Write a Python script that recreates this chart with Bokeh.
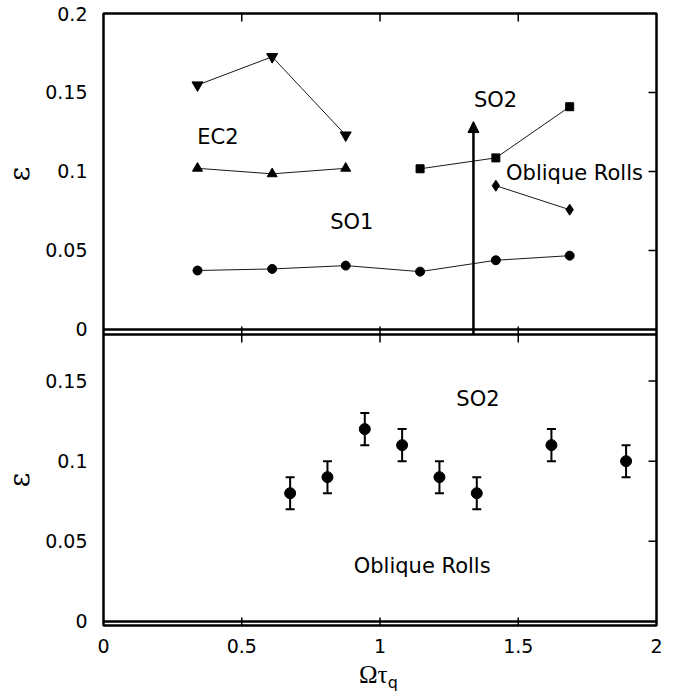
import math
from bokeh.plotting import figure
from bokeh.layouts import column
from bokeh.models import (ColumnDataSource, Range1d, FixedTicker, Span,
                          Label, Arrow, NormalHead, Whisker, TeeHead, Div)
from bokeh.embed import file_html
from bokeh.resources import INLINE

# ---------------- data ----------------
# top panel
x_grid = [0.34, 0.61, 0.876, 1.145, 1.419, 1.686]
so1_eps = [0.0373, 0.0383, 0.0404, 0.0366, 0.0438, 0.0467]          # circles
ec2_up_x = [0.34, 0.61, 0.876]
ec2_up_eps = [0.1547, 0.1726, 0.123]                                   # down triangles
ec2_lo_x = [0.34, 0.61, 0.876]
ec2_lo_eps = [0.102, 0.0985, 0.102]                                    # up triangles
so2_x = [1.145, 1.419, 1.686]
so2_eps = [0.1017, 0.1086, 0.141]                                      # squares
obl_x = [1.419, 1.686]
obl_eps = [0.091, 0.0758]                                              # diamonds
arrow_x = 1.338
arrow_top = 0.1316

# bottom panel
b_x = [0.675, 0.81, 0.945, 1.08, 1.215, 1.35, 1.62, 1.89]
b_eps = [0.08, 0.09, 0.12, 0.11, 0.09, 0.08, 0.11, 0.10]
b_err = [0.01, 0.01, 0.01, 0.01, 0.01, 0.01, 0.01, 0.01]

x_ticks = [0, 0.5, 1, 1.5, 2]
x_tick_labels = ["0", "0.5", "1", "1.5", "2"]
inner_x_ticks = [0.5, 1, 1.5]
top_y_ticks = [0, 0.05, 0.1, 0.15, 0.2]
top_y_labels = ["0", "0.05", "0.1", "0.15", "0.2"]
top_inner_y = [0.05, 0.1, 0.15]
bot_y_ticks = [0, 0.05, 0.1, 0.15]
bot_y_labels = ["0", "0.05", "0.1", "0.15"]
bot_inner_y = [0.05, 0.1, 0.15]

TOP_Y = (-0.0032, 0.2)
BOT_Y = (-0.0025, 0.179)

FONT = "DejaVu Sans"
TICK_FS = "19px"
FS = "21px"
LC = "#1a1a1a"
OVERLAP = 14   # px of the top figure's bottom border that the lower figure overlays
LEFT = 101
RIGHT = 14
W = 670

x_range = Range1d(0, 2)


def style_left(p, yticks, ylabels):
    ly = p.yaxis[0]
    ly.ticker = FixedTicker(ticks=yticks)
    ly.major_label_overrides = {t: l for t, l in zip(yticks, ylabels)}
    ly.major_label_text_font = FONT
    ly.major_label_text_font_size = TICK_FS
    ly.major_label_text_color = "black"
    ly.major_label_standoff = 16
    ly.major_tick_in = 0
    ly.major_tick_out = 0
    ly.minor_tick_in = 0
    ly.minor_tick_out = 0
    ly.axis_line_color = None
    ly.axis_label = "ε"
    ly.axis_label_text_font = "DejaVu Serif"
    ly.axis_label_text_font_size = "28px"
    ly.axis_label_text_font_style = "normal"
    ly.axis_label_text_color = "black"
    ly.axis_label_standoff = 6


def inner_ticks(p, yr, inner_y):
    # short tick marks on the inside of the frame (clipped to the frame)
    p.scatter([2] * len(inner_y), inner_y, marker="dash", size=16, line_width=1.5,
              line_color="black")
    p.scatter(inner_x_ticks, [yr[1]] * len(inner_x_ticks), marker="dash", angle=math.pi / 2,
              size=16, line_width=1.5, line_color="black")
    p.scatter(inner_x_ticks, [yr[0]] * len(inner_x_ticks), marker="dash", angle=math.pi / 2,
              size=16, line_width=1.5, line_color="black")


def base_style(p):
    p.grid.visible = False
    p.outline_line_color = "black"
    p.outline_line_width = 2.5
    p.background_fill_color = "white"
    p.add_layout(Span(location=0, dimension="width", line_color="black", line_width=2.5))


def txt(p, x, y, s):
    p.add_layout(Label(x=x, y=y, text=s, text_font=FONT, text_font_size=FS,
                       text_baseline="middle", text_align="left", text_color="black"))


# ---------------- top panel ----------------
p1 = figure(width=W, height=13 + 321 + OVERLAP, x_range=x_range, y_range=Range1d(*TOP_Y),
            output_backend="svg", toolbar_location=None,
            min_border_left=LEFT, min_border_right=RIGHT, min_border_top=13,
            min_border_bottom=OVERLAP)
p1.border_fill_color = "white"
base_style(p1)
style_left(p1, top_y_ticks, top_y_labels)
p1.xaxis.visible = False
inner_ticks(p1, TOP_Y, top_inner_y)

p1.line(ec2_up_x, ec2_up_eps, line_color=LC, line_width=1)
p1.scatter(ec2_up_x, ec2_up_eps, marker="inverted_triangle", size=11, color="black")
p1.line(ec2_lo_x, ec2_lo_eps, line_color=LC, line_width=1)
p1.scatter(ec2_lo_x, ec2_lo_eps, marker="triangle", size=10, color="black")
p1.line(x_grid, so1_eps, line_color=LC, line_width=1)
p1.scatter(x_grid, so1_eps, marker="circle", size=9, color="black")
p1.line(so2_x, so2_eps, line_color=LC, line_width=1)
p1.scatter(so2_x, so2_eps, marker="square", size=8, color="black")
p1.line(obl_x, obl_eps, line_color=LC, line_width=1)
p1.scatter(obl_x, obl_eps, marker="diamond", size=11, color="black")

p1.add_layout(Arrow(x_start=arrow_x, y_start=TOP_Y[0], x_end=arrow_x, y_end=arrow_top,
                    line_width=2.5, line_color="black",
                    end=NormalHead(size=11, fill_color="black", line_color="black", line_width=1)))

txt(p1, 0.339, 0.122, "EC2")
txt(p1, 0.82, 0.068, "SO1")
txt(p1, 1.34, 0.145, "SO2")
txt(p1, 1.456, 0.099, "Oblique Rolls")

# ---------------- bottom panel ----------------
p2 = figure(width=W, height=291 + 40, x_range=x_range, y_range=Range1d(*BOT_Y),
            output_backend="svg", toolbar_location=None,
            min_border_left=LEFT, min_border_right=RIGHT, min_border_top=0, min_border_bottom=40,
            margin=(-OVERLAP, 0, 0, 0))
p2.border_fill_alpha = 0.0
base_style(p2)
style_left(p2, bot_y_ticks, bot_y_labels)
inner_ticks(p2, BOT_Y, bot_inner_y)

bx = p2.xaxis[0]
bx.ticker = FixedTicker(ticks=x_ticks)
bx.major_label_overrides = {t: l for t, l in zip(x_ticks, x_tick_labels)}
bx.major_label_text_font = FONT
bx.major_label_text_font_size = TICK_FS
bx.major_label_text_color = "black"
bx.major_label_standoff = 13
bx.major_tick_in = 0
bx.major_tick_out = 0
bx.minor_tick_in = 0
bx.minor_tick_out = 0
bx.axis_line_color = None

src = ColumnDataSource(data=dict(
    x=b_x, y=b_eps,
    upper=[v + e for v, e in zip(b_eps, b_err)],
    lower=[v - e for v, e in zip(b_eps, b_err)],
))
p2.add_layout(Whisker(base="x", upper="upper", lower="lower", source=src,
                      line_width=2, line_color="black",
                      upper_head=TeeHead(size=9, line_width=2, line_color="black"),
                      lower_head=TeeHead(size=9, line_width=2, line_color="black")))
p2.scatter("x", "y", source=src, marker="circle", size=11, color="black")

txt(p2, 1.276, 0.139, "SO2")
txt(p2, 0.905, 0.0345, "Oblique Rolls")

# x axis title: Omega tau_q
xlabel = Div(
    text='<div style="padding-left:354px; margin-top:-7px; line-height:24px; color:black;">'
         '<span style="font-family:\'Liberation Serif\'; font-size:25px;">Ωτ</span>'
         '<span style="font-family:\'DejaVu Sans\'; font-size:16px; position:relative; top:5px;">q</span>'
         '</div>',
    width=W, height=28)

layout = column(p1, p2, xlabel, spacing=0)

open("out.html", "w").write(file_html(layout, INLINE))
